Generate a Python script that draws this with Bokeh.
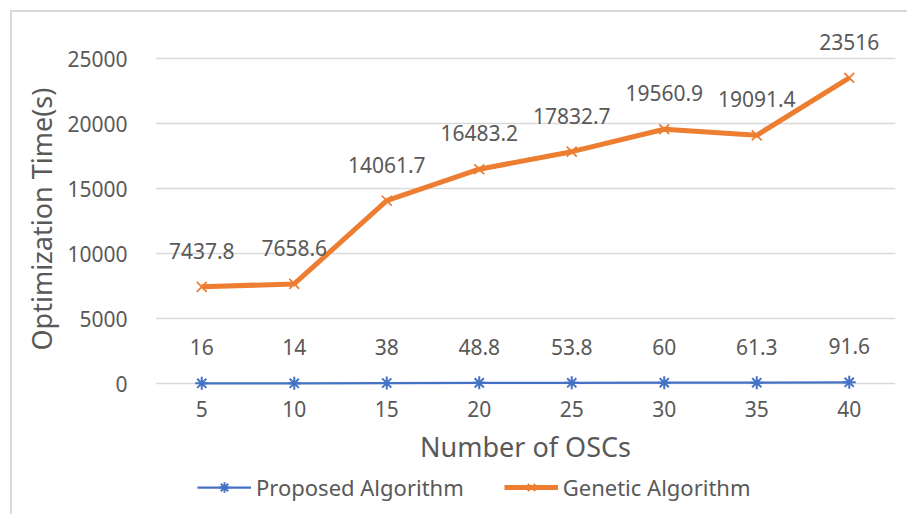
from bokeh.plotting import figure
from bokeh.models import (Range1d, FixedTicker, ColumnDataSource, LabelSet, Label,
                          Legend, LegendItem, Title)
from bokeh.core.properties import value
from bokeh.embed import file_html
from bokeh.resources import INLINE

# Optimization time (seconds) against the number of OSCs
osc_counts = [5, 10, 15, 20, 25, 30, 35, 40]
proposed_times = [16, 14, 38, 48.8, 53.8, 60, 61.3, 91.6]
genetic_times = [7437.8, 7658.6, 14061.7, 16483.2, 17832.7, 19560.9, 19091.4, 23516]
y_ticks = [0, 5000, 10000, 15000, 20000, 25000]

FONT = "Noto Sans"
TEXT = "#595959"
GRID = "#d9d9d9"
BLUE = "#4472C4"
ORANGE = "#ED7D31"

W, H = 897, 504
# frame geometry: 65 px per 5000 s; the frame runs to the bottom of the canvas
scale = 65 / 5000
frame_top, zero_y = 18, 371
y_hi = (zero_y - frame_top) / scale
y_lo = -(H - zero_y) / scale

p = figure(
    width=W, height=H,
    x_range=Range1d(2.5, 42.5), y_range=Range1d(y_lo, y_hi),
    output_backend="svg", toolbar_location=None,
    min_border_left=143, min_border_right=14,
    min_border_top=frame_top, min_border_bottom=0,
    outline_line_color=None,
)
p.margin = (10, 0, 0, 10)
p.styles = {"border-left": "2px solid #d9d9d9", "border-top": "2px solid #d9d9d9"}

p.xgrid.visible = False
p.xaxis.visible = False
p.ygrid.ticker = FixedTicker(ticks=y_ticks)
p.ygrid.grid_line_color = GRID
p.ygrid.grid_line_width = 1.5

ax = p.yaxis
ax.ticker = FixedTicker(ticks=y_ticks)
ax.axis_line_color = None
ax.major_tick_line_color = None
ax.minor_tick_line_color = None
ax.major_label_text_font = FONT
ax.major_label_text_font_size = "21px"
ax.major_label_text_color = TEXT
ax.major_label_standoff = 22

# vertical axis title, anchored from the bottom of the frame
y_title = Title(text="Optimization Time(s)", align="left", offset=166,
                text_font=FONT, text_font_size="27px", text_font_style="normal",
                text_color=TEXT, standoff=10)
p.add_layout(y_title, "left")

src = ColumnDataSource(dict(
    x=osc_counts,
    zero=[0] * len(osc_counts),
    prop=proposed_times,
    gen=genetic_times,
    x_txt=[str(v) for v in osc_counts],
    prop_txt=[f"{v:g}" for v in proposed_times],
    gen_txt=[f"{v:g}" for v in genetic_times],
))

b_line = p.line("x", "prop", source=src, line_color=BLUE, line_width=2.25)
b_mark = p.scatter("x", "prop", source=src, marker="asterisk", size=13,
                   line_color=BLUE, line_width=2)
o_line = p.line("x", "gen", source=src, line_color=ORANGE, line_width=5)
o_mark = p.scatter("x", "gen", source=src, marker="x", size=14,
                   line_color=ORANGE, line_width=1.75)

# data labels above each point
for col, txt in (("prop", "prop_txt"), ("gen", "gen_txt")):
    p.add_layout(LabelSet(
        x="x", y=col, text=txt, source=src, y_offset=36,
        text_align="center", text_baseline="middle",
        text_font_size="21px", text_color=TEXT, text_font=value(FONT),
    ))

# category labels under the zero line
p.add_layout(LabelSet(
    x="x", y="zero", text="x_txt", source=src, y_offset=-25,
    text_align="center", text_baseline="middle",
    text_font_size="21px", text_color=TEXT, text_font=value(FONT),
))

p.add_layout(Label(
    x=22.5, y=0, y_offset=-63, text="Number of OSCs",
    text_align="center", text_baseline="middle",
    text_font_size="27px", text_color=TEXT, text_font=FONT,
))

legend = Legend(
    items=[
        LegendItem(label="Proposed Algorithm", renderers=[b_line, b_mark]),
        LegendItem(label="Genetic Algorithm", renderers=[o_line, o_mark]),
    ],
    orientation="horizontal", location=(42, 14),
    padding=0, margin=0, spacing=40, label_standoff=5,
    glyph_width=54, glyph_height=26,
    border_line_color=None, background_fill_alpha=0,
    label_text_font=FONT, label_text_font_size="22px", label_text_color=TEXT,
)
p.add_layout(legend, "center")

open("out.html", "w").write(file_html(p, INLINE))
